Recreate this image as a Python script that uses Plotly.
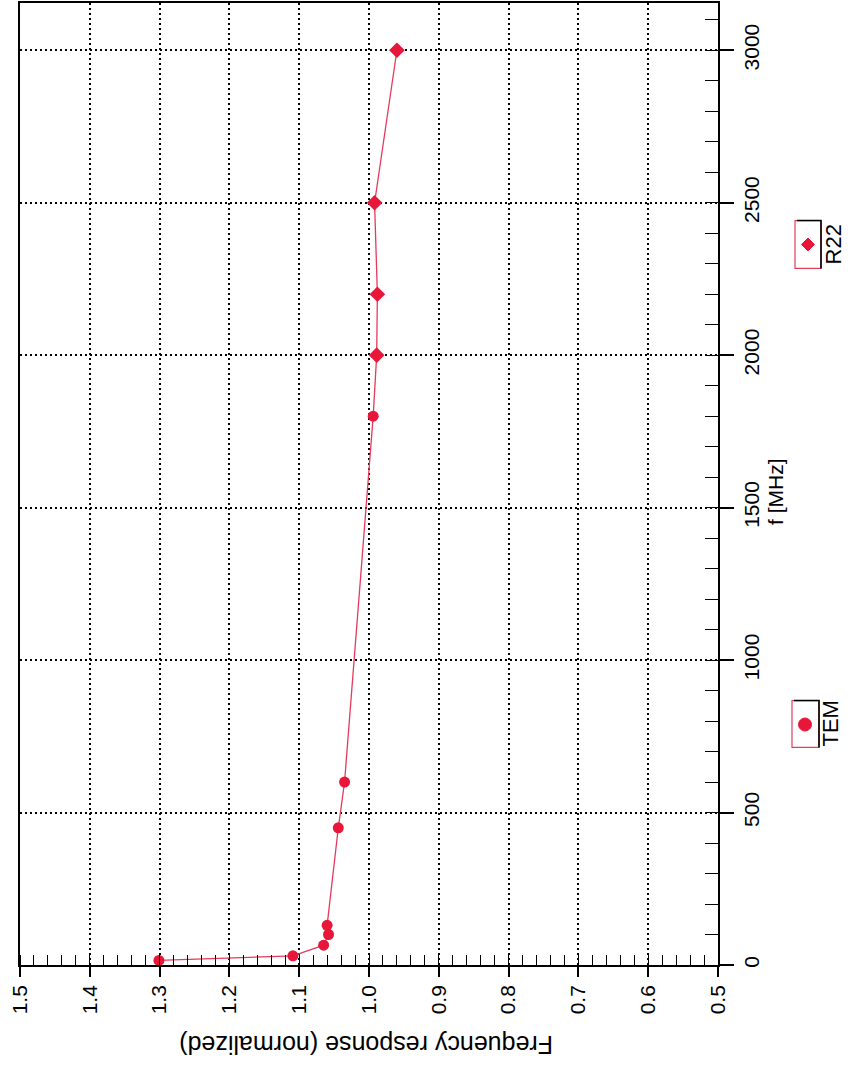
import plotly.graph_objects as go

# ---- data ----
f_tem = [15, 30, 65, 100, 130, 450, 600, 1800]
resp_tem = [1.301, 1.109, 1.065, 1.058, 1.060, 1.044, 1.035, 0.994]
f_r22 = [2000, 2200, 2500, 3000]
resp_r22 = [0.989, 0.988, 0.992, 0.960]

x_title = "Frequency response (normalized)"
y_title = "f [MHz]"
legend_names = ["TEM", "R22"]

W, H = 848, 1067
L, R, T, B = 20, 130, 1, 102
PW, PH = W - L - R, H - T - B

def px(x):
    return (x - L) / PW

def py(y):
    return (H - B - y) / PH

red = "#e8173a"
line_red = "#e63a5c"
font = "Arial, Liberation Sans, sans-serif"

fig = go.Figure()
fig.add_trace(go.Scatter(
    x=resp_tem + resp_r22, y=f_tem + f_r22, mode="lines",
    line=dict(color=line_red, width=1.3), showlegend=False, hoverinfo="skip"))
fig.add_trace(go.Scatter(
    x=resp_tem, y=f_tem, mode="markers", name=legend_names[0],
    marker=dict(symbol="circle", size=11, color=red), showlegend=False))
fig.add_trace(go.Scatter(
    x=resp_r22, y=f_r22, mode="markers", name=legend_names[1],
    marker=dict(symbol="diamond", size=12, color=red), showlegend=False))

grid = dict(showgrid=True, gridcolor="black", gridwidth=1.8, griddash="2px,3px",
            showline=True, linecolor="black", linewidth=1.5, mirror=True,
            zeroline=False, ticks="outside", tickcolor="black", tickwidth=1.5,
            tickangle=-90, tickfont=dict(family=font, size=21, color="black"))

fig.update_layout(
    width=W, height=H, margin=dict(l=L, r=R, t=T, b=B),
    paper_bgcolor="white", plot_bgcolor="white", showlegend=False,
    xaxis=dict(range=[1.5, 0.5], tick0=0.5, dtick=0.1, tickformat=".1f",
               ticklen=10,
               minor=dict(dtick=0.02, ticks="inside", ticklen=10,
                          tickcolor="black", tickwidth=1.2, showgrid=False),
               **grid),
    yaxis=dict(range=[0, 3155], tick0=0, dtick=500, side="right",
               ticklen=14,
               minor=dict(dtick=100, ticks="inside", ticklen=13,
                          tickcolor="black", tickwidth=1.2, showgrid=False),
               **grid),
)

ann = []
ann.append(dict(x=px(366), y=py(1045), xref="paper", yref="paper", text=x_title,
                textangle=180, showarrow=False, font=dict(family=font, size=25, color="black"),
                xanchor="center", yanchor="middle"))
ann.append(dict(x=px(776), y=py(491), xref="paper", yref="paper", text=y_title,
                textangle=-90, showarrow=False, font=dict(family=font, size=21, color="black"),
                xanchor="center", yanchor="middle"))

shapes = []
# legend entries: (box x0, x1, y0, y1, marker center, symbol, text position, name)
entries = [
    (792, 819, 700, 747, (805, 724), "circle", (831, 723), legend_names[0]),
    (795, 821, 219, 267, (808, 243), "diamond", (833, 243), legend_names[1]),
]
for x0, x1, y0, y1, (cx, cy), sym, (tx, ty), name in entries:
    shapes.append(dict(type="rect", xref="paper", yref="paper",
                       x0=px(x0), x1=px(x1), y0=py(y1), y1=py(y0),
                       line=dict(color="#e0405a", width=1.2), fillcolor="white"))
    shapes.append(dict(type="path", xref="paper", yref="paper",
                       path=f"M {px(x0 + 2)},{py(y0)} L {px(x1)},{py(y0)} L {px(x1)},{py(y1)}",
                       line=dict(color="black", width=1.6)))
    if sym == "circle":
        r = 6.5
        shapes.append(dict(type="circle", xref="paper", yref="paper",
                           x0=px(cx - r), x1=px(cx + r), y0=py(cy + r), y1=py(cy - r),
                           fillcolor=red, line=dict(color=red, width=1)))
    else:
        r = 6.5
        shapes.append(dict(type="path", xref="paper", yref="paper",
                           path=(f"M {px(cx)},{py(cy - r)} L {px(cx + r)},{py(cy)} "
                                 f"L {px(cx)},{py(cy + r)} L {px(cx - r)},{py(cy)} Z"),
                           fillcolor=red, line=dict(color=red, width=1)))
    ann.append(dict(x=px(tx), y=py(ty), xref="paper", yref="paper", text=name,
                    textangle=-90, showarrow=False,
                    font=dict(family=font, size=22, color="black"),
                    xanchor="center", yanchor="middle"))

fig.update_layout(annotations=ann, shapes=shapes)
fig.write_html("out.html", config={"displayModeBar": False},
               post_script="document.body.style.margin='0px';")
